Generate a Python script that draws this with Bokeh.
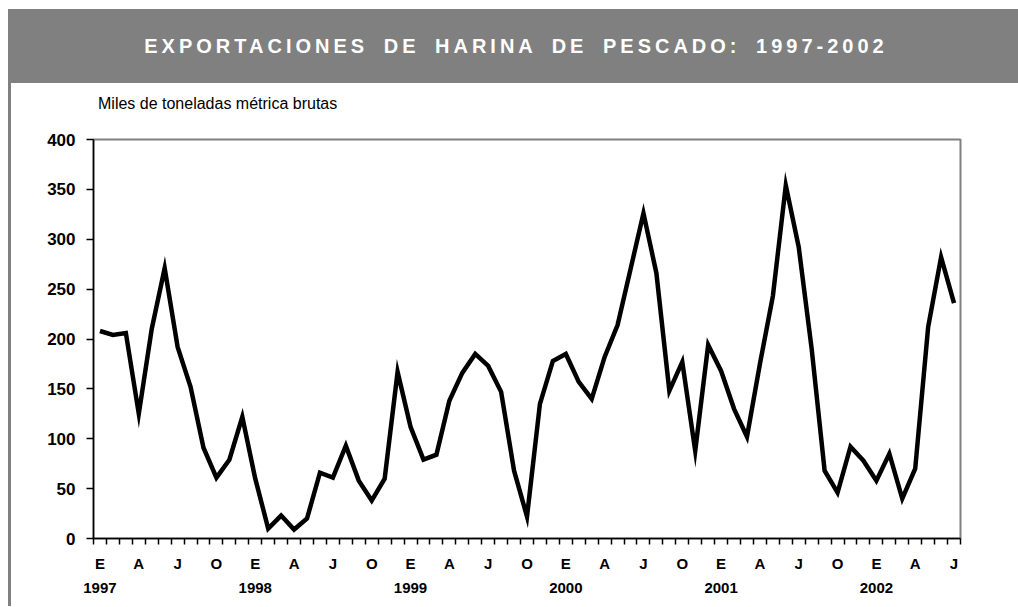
from bokeh.plotting import figure
from bokeh.models import (Range1d, FixedTicker, LinearAxis, Div)
from bokeh.layouts import column
from bokeh.embed import file_html
from bokeh.resources import INLINE

# ---------------- data ----------------
title_text = "EXPORTACIONES DE HARINA DE PESCADO: 1997-2002"
unit_text = "Miles de toneladas métrica brutas"
years = ["1997", "1998", "1999", "2000", "2001", "2002"]
quarter_labels = ["E", "A", "J", "O"]   # Enero, Abril, Julio, Octubre

# monthly exports, Jan 1997 .. Jul 2002
exports_1997 = [208, 204, 206, 125, 210, 271, 192, 152, 91, 61, 79, 122]
exports_1998 = [60, 10, 23, 9, 20, 66, 61, 93, 58, 38, 60, 167]
exports_1999 = [112, 79, 84, 138, 166, 185, 173, 147, 68, 22, 135, 178]
exports_2000 = [185, 157, 140, 182, 214, 270, 326, 266, 148, 177, 88, 194]
exports_2001 = [168, 130, 102, 175, 243, 354, 292, 190, 68, 46, 92, 78]
exports_2002 = [58, 85, 40, 70, 212, 282, 236]
values = (exports_1997 + exports_1998 + exports_1999 + exports_2000
          + exports_2001 + exports_2002)

n = len(values)
x = [i + 0.5 for i in range(n)]          # category centres

# ---------------- banner ----------------
banner = Div(
    text=('<div style="width:1010px;height:74px;background:#808080;color:#ffffff;'
          'font-family:\'Liberation Sans\',Arial,sans-serif;font-weight:bold;font-size:20px;'
          'letter-spacing:4px;word-spacing:6px;display:flex;align-items:center;'
          'justify-content:center;">' + title_text + '</div>'),
    width=1010, height=74, margin=(0, 0, 0, 0))

# unit caption
unit_div = Div(
    text=('<div style="width:1006px;height:37px;box-sizing:border-box;padding-left:87px;'
          'padding-top:12px;font-family:\'Liberation Sans\',Arial,sans-serif;'
          'font-size:16px;line-height:18px;color:#000000;">' + unit_text + '</div>'),
    width=1006, height=37, margin=(0, 0, 0, 0))

# ---------------- main plot ----------------
p = figure(width=1006, height=486, output_backend="svg", toolbar_location=None,
           x_range=Range1d(0, n), y_range=Range1d(0, 400),
           min_border_left=82, min_border_right=57, min_border_top=19,
           min_border_bottom=68, background_fill_color="white",
           border_fill_color="white", margin=(0, 0, 0, 0))
p.grid.visible = False
p.outline_line_color = "#808080"
p.outline_line_width = 2

p.line(x, values, line_color="black", line_width=4.5, line_join="miter")

# y axis
ya = p.yaxis[0]
ya.ticker = FixedTicker(ticks=list(range(0, 401, 50)))
ya.minor_tick_line_color = None
ya.major_tick_out = 7
ya.major_tick_in = 0
ya.major_label_standoff = 11
ya.major_label_text_font = "Liberation Sans"
ya.major_label_text_font_style = "bold"
ya.major_label_text_font_size = "17px"
ya.major_label_text_color = "black"
ya.axis_line_color = "black"
ya.axis_line_width = 1.5
ya.major_tick_line_color = "black"
ya.major_tick_line_width = 1.5

# x axis: quarter letters, monthly ticks
xa = p.xaxis[0]
qt = [x[i] for i in range(0, n, 3)]
xa.ticker = FixedTicker(ticks=qt, minor_ticks=list(range(0, n + 1)))
xa.major_label_overrides = {t: quarter_labels[k % 4] for k, t in enumerate(qt)}
xa.major_tick_out = 0
xa.major_tick_in = 0
xa.minor_tick_out = 6
xa.minor_tick_in = 0
xa.minor_tick_line_color = "black"
xa.minor_tick_line_width = 1.5
xa.major_label_standoff = 10
xa.major_label_text_font = "Liberation Sans"
xa.major_label_text_font_style = "bold"
xa.major_label_text_font_size = "15px"
xa.major_label_text_color = "black"
xa.axis_line_color = "black"
xa.axis_line_width = 1.5

# x axis 2: years
yt = [x[i] for i in range(0, n, 12)]
ya2 = LinearAxis(ticker=FixedTicker(ticks=yt, minor_ticks=[]))
ya2.major_label_overrides = {t: years[k] for k, t in enumerate(yt)}
ya2.axis_line_color = None
ya2.major_tick_line_color = None
ya2.minor_tick_line_color = None
ya2.major_label_standoff = 2
ya2.major_label_text_font = "Liberation Sans"
ya2.major_label_text_font_style = "bold"
ya2.major_label_text_font_size = "15px"
ya2.major_label_text_color = "black"
p.add_layout(ya2, "below")

layout = column(banner, unit_div, p, spacing=0, margin=(9, 0, 0, 8),
                styles={"border-left": "3px solid #808080"})

open("out.html", "w", encoding="utf-8").write(file_html(layout, INLINE))
